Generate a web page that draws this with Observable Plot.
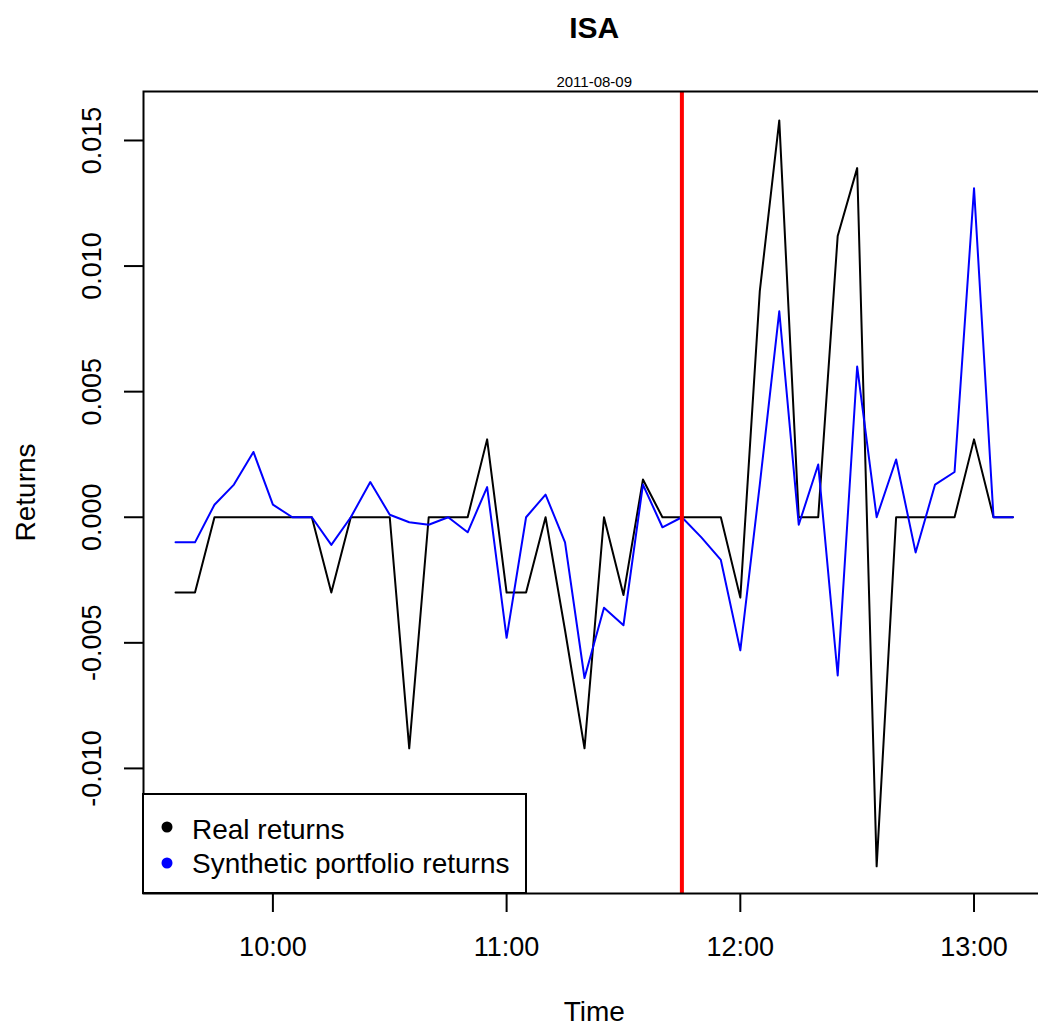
<!DOCTYPE html>
<html><head><meta charset="utf-8">
<script src="https://cdn.jsdelivr.net/npm/d3@7"></script>
<script src="https://cdn.jsdelivr.net/npm/@observablehq/plot@0.6"></script>
<style>
html,body{margin:0;padding:0;background:#fff;overflow:hidden;}
#chart{width:1038px;height:1030px;overflow:hidden;}
#chart svg{max-width:none !important;}
</style></head><body><div id="chart"></div>
<script>
const title = "ISA";
const subtitle = "2011-08-09";
const xLabel = "Time";
const yLabel = "Returns";
const seriesNames = ["Real returns", "Synthetic portfolio returns"];
const seriesColors = ["#000000", "#0000ff"];
const times = ["09:35","09:40","09:45","09:50","09:55","10:00","10:05","10:10","10:15","10:20","10:25","10:30",
  "10:35","10:40","10:45","10:50","10:55","11:00","11:05","11:10","11:15","11:20","11:25","11:30","11:35","11:40",
  "11:45","11:50","11:55","12:00","12:05","12:10","12:15","12:20","12:25","12:30","12:35","12:40","12:45","12:50",
  "12:55","13:00","13:05","13:10"];
const realReturns = [-0.0030,-0.0030,0,0,0,0,0,0,-0.0030,0,0,0,
  -0.0092,0,0,0,0.0031,-0.0030,-0.0030,0,-0.0045,-0.0092,0,-0.0031,0.0015,0,
  0,0,0,-0.0032,0.0090,0.0158,0,0,0.0112,0.0139,-0.0139,0,0,0,
  0,0.0031,0,0];
const syntheticReturns = [-0.0010,-0.0010,0.0005,0.0013,0.0026,0.0005,0.0000,0.0000,-0.0011,0.0000,0.0014,0.0001,
  -0.0002,-0.0003,0.0000,-0.0006,0.0012,-0.0048,0.0000,0.0009,-0.0010,-0.0064,-0.0036,-0.0043,0.0013,-0.0004,
  0.0000,-0.0008,-0.0017,-0.0053,0.0013,0.0082,-0.0003,0.0021,-0.0063,0.0060,0.0000,0.0023,-0.0014,0.0013,
  0.0018,0.0131,0.0000,0.0000];
const xTickLabels = ["10:00","11:00","12:00","13:00"];
const yTicks = [-0.010,-0.005,0.000,0.005,0.010,0.015];
const eventTime = "11:45";

const toDate = s => { const [h,m] = s.split(":").map(Number); return new Date(Date.UTC(2011,7,9,h,m)); };
const data = times.map((t,i)=>({time: toDate(t), real: realReturns[i], synthetic: syntheticReturns[i]}));
const pad = 8.22*60000;
const t0 = toDate(times[0]), t1 = toDate(times[times.length-1]);

const font = "'Liberation Sans', Arial, sans-serif";
const W = 1046, H = 1030;
const mL = 143, mR = 1.5, mT = 91, mB = 137;
const fs = 27;
const centered = {textAnchor: "middle", lineAnchor: "middle", text: d => d};

const plot = Plot.plot({
  width: W, height: H, marginLeft: mL, marginRight: mR, marginTop: mT, marginBottom: mB,
  style: {fontFamily: font, background: "white", color: "black", overflow: "visible", maxWidth: "none"},
  x: {type: "utc", domain: [new Date(+t0 - pad), new Date(+t1 + pad)]},
  y: {domain: [-0.01498, 0.01695]},
  marks: [
    Plot.line(data, {x: "time", y: "real", stroke: seriesColors[0], strokeWidth: 2}),
    Plot.line(data, {x: "time", y: "synthetic", stroke: seriesColors[1], strokeWidth: 2}),
    Plot.ruleX([toDate(eventTime)], {stroke: "#ff0000", strokeWidth: 4}),
    Plot.frame({stroke: "black", strokeWidth: 2}),
    Plot.axisX(xTickLabels.map(toDate), {tickSize: 19, tickPadding: 24, strokeWidth: 2,
      tickFormat: d3.utcFormat("%H:%M"), fontSize: fs, label: null}),
    Plot.axisY(yTicks, {tickSize: 19, tickPadding: 24, strokeWidth: 2, tickRotate: -90,
      tickFormat: d => d.toFixed(3), fontSize: fs, label: null}),
    Plot.text([title], {...centered, frameAnchor: "top", dy: -63, fontWeight: "bold", fontSize: 30}),
    Plot.text([subtitle], {...centered, frameAnchor: "top", dy: -9, fontSize: 15}),
    Plot.text([xLabel], {...centered, frameAnchor: "bottom", dy: 119, fontSize: 28}),
    Plot.text([yLabel], {...centered, frameAnchor: "left", dx: -117, rotate: -90, fontSize: 28})
  ]
});
plot.style.maxWidth = "none";

// legend (bottom-left of the plotting frame)
const svg = d3.select(plot);
const fx = mL, fy = H - mB;
const lg = svg.append("g").attr("font-family", font).attr("font-size", 28).attr("text-anchor", "start");
lg.append("rect").attr("x", fx).attr("y", fy - 99).attr("width", 383).attr("height", 99)
  .attr("fill", "white").attr("stroke", "black").attr("stroke-width", 2);
seriesNames.forEach((name, i) => {
  lg.append("circle").attr("cx", fx + 24).attr("cy", fy - 66 + i * 36).attr("r", 5.5).attr("fill", seriesColors[i]);
  lg.append("text").attr("x", fx + 49).attr("y", fy - 54 + i * 34).attr("fill", "black").text(name);
});

document.getElementById("chart").appendChild(plot);
</script></body></html>
